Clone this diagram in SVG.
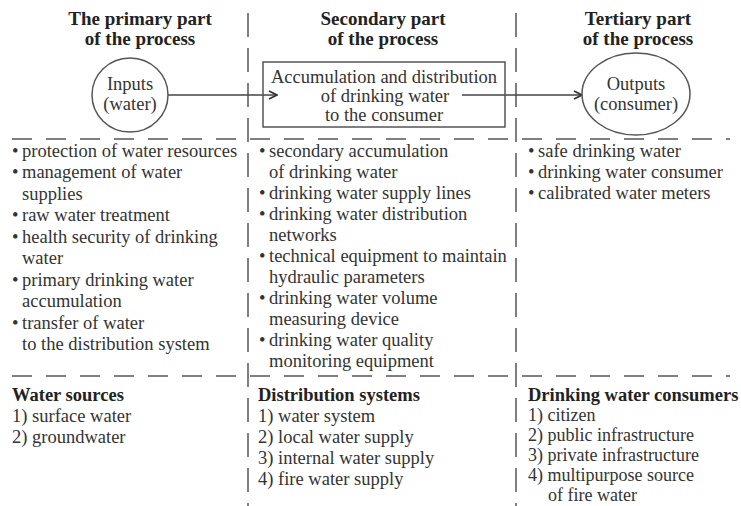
<svg xmlns="http://www.w3.org/2000/svg" width="741" height="506" viewBox="0 0 741 506">
<defs>
<style>
text{font-family:"Liberation Serif","Times New Roman",serif;fill:#333;font-size:18.5px}
.t{font-weight:bold;font-size:19px;text-anchor:middle;fill:#222}
.h{font-weight:bold;fill:#222}
.c{text-anchor:middle}
.s{font-size:18px}
.dv{stroke:#555;stroke-width:1.5;stroke-dasharray:24 11;fill:none}
.dh{stroke:#555;stroke-width:1.5;stroke-dasharray:20 14;fill:none}
.n{fill:#fff;stroke:#555;stroke-width:1.5}
.a{stroke:#444;stroke-width:1.5;fill:none;marker-end:url(#ah)}
</style>
<marker id="ah" viewBox="0 0 10 10" refX="9" refY="5" markerWidth="10" markerHeight="10" markerUnits="userSpaceOnUse" orient="auto">
<path d="M1 1 L9 5 L1 9" fill="none" stroke="#333" stroke-width="1.8"/>
</marker>
</defs>
<rect width="741" height="506" fill="#fff"/>
<g id="grid">
<line class="dv" x1="248" y1="13" x2="248" y2="506"/>
<line class="dv" x1="516" y1="13" x2="516" y2="506"/>
<line class="dh" x1="12" y1="139" x2="730" y2="139"/>
<line class="dh" x1="12" y1="376" x2="730" y2="376"/>
</g>
<g id="titles">
<text class="t" x="140" y="25">The primary part</text>
<text class="t" x="140" y="45">of the process</text>
<text class="t" x="383" y="25">Secondary part</text>
<text class="t" x="383" y="45">of the process</text>
<text class="t" x="638" y="25">Tertiary part</text>
<text class="t" x="638" y="45">of the process</text>
</g>
<g id="connectors">
<line class="a" x1="168" y1="95" x2="277" y2="95"/>
<line class="a" x1="462" y1="95" x2="582" y2="95"/>
</g>
<g id="inputs">
<ellipse class="n" cx="130" cy="95" rx="38" ry="37"/>
<text class="c" x="130" y="90">Inputs</text>
<text class="c" x="130" y="110">(water)</text>
</g>
<g id="accumulation">
<rect x="263" y="62" width="242" height="65" fill="none" stroke="#555" stroke-width="1.5"/>
<text class="c" x="384" y="83">Accumulation and distribution</text>
<text class="c" x="385" y="102">of drinking water</text>
<text class="c" x="384" y="121">to the consumer</text>
</g>
<g id="outputs">
<ellipse class="n" cx="636" cy="94" rx="54" ry="41"/>
<text class="c" x="636" y="90">Outputs</text>
<text class="c" x="636" y="110">(consumer)</text>
</g>
<g id="primary-list">
<text x="12" y="157">•</text><text x="22" y="157">protection of water resources</text>
<text x="12" y="178">•</text><text x="22" y="178">management of water</text>
<text x="22" y="200">supplies</text>
<text x="12" y="221">•</text><text x="22" y="221">raw water treatment</text>
<text x="12" y="243">•</text><text x="22" y="243">health security of drinking</text>
<text x="22" y="264">water</text>
<text x="12" y="286">•</text><text x="22" y="286">primary drinking water</text>
<text x="22" y="307">accumulation</text>
<text x="12" y="329">•</text><text x="22" y="329">transfer of water</text>
<text x="22" y="350">to the distribution system</text>
</g>
<g id="secondary-list">
<text x="259" y="157">•</text><text x="269" y="157">secondary accumulation</text>
<text x="269" y="178">of drinking water</text>
<text x="259" y="199">•</text><text x="269" y="199">drinking water supply lines</text>
<text x="259" y="220">•</text><text x="269" y="220">drinking water distribution</text>
<text x="269" y="241">networks</text>
<text x="259" y="262">•</text><text x="269" y="262">technical equipment to maintain</text>
<text x="269" y="283">hydraulic parameters</text>
<text x="259" y="304">•</text><text x="269" y="304">drinking water volume</text>
<text x="269" y="325">measuring device</text>
<text x="259" y="346">•</text><text x="269" y="346">drinking water quality</text>
<text x="269" y="367">monitoring equipment</text>
</g>
<g id="tertiary-list">
<text x="528" y="157">•</text><text x="538" y="157">safe drinking water</text>
<text x="528" y="178">•</text><text x="538" y="178">drinking water consumer</text>
<text x="528" y="199">•</text><text x="538" y="199">calibrated water meters</text>
</g>
<g id="water-sources">
<text class="h" x="12" y="401">Water sources</text>
<text x="12" y="422">1) surface water</text>
<text x="12" y="443">2) groundwater</text>
</g>
<g id="distribution-systems">
<text class="h" x="258" y="401">Distribution systems</text>
<text x="258" y="422">1) water system</text>
<text x="258" y="443">2) local water supply</text>
<text x="258" y="464">3) internal water supply</text>
<text x="258" y="485">4) fire water supply</text>
</g>
<g id="consumers">
<text class="h" x="528" y="401">Drinking water consumers</text>
<text class="s" x="528" y="421">1) citizen</text>
<text class="s" x="528" y="441">2) public infrastructure</text>
<text class="s" x="528" y="461">3) private infrastructure</text>
<text class="s" x="528" y="481">4) multipurpose source</text>
<text class="s" x="548" y="501">of fire water</text>
</g>
</svg>
